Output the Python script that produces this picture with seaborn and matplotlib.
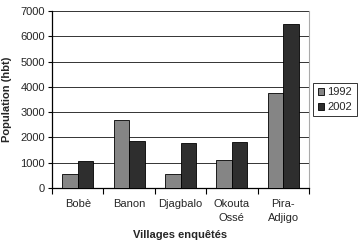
import matplotlib
matplotlib.use("Agg")
import matplotlib.pyplot as plt
import seaborn as sns
import pandas as pd
import numpy as np

villages = ["Bobè", "Banon", "Djagbalo", "Okouta\nOssé", "Pira-\nAdjigo"]
years = ["1992", "2002"]
pop_1992 = [540, 2690, 540, 1105, 3740]
pop_2002 = [1080, 1845, 1765, 1830, 6470]

df = pd.DataFrame({
    "village": villages * 2,
    "year": [years[0]] * 5 + [years[1]] * 5,
    "pop": pop_1992 + pop_2002,
})

sns.set_style("white")
plt.rcParams['font.family'] = ['Liberation Sans', 'DejaVu Sans']

fs = 8
fig = plt.figure(figsize=(3.6, 2.46), dpi=100)
ax = fig.add_axes([52/360, 1 - 188/246, (309-52)/360, (188-11)/246])

sns.barplot(data=df, x="village", y="pop", hue="year", order=villages,
            hue_order=years, palette=["#858585", "#2e2e2e"], width=0.6,
            edgecolor="black", linewidth=0.6, ax=ax, zorder=3)

ax.set_ylim(0, 7000)
ax.set_xlim(-0.5, 4.5)
ax.set_yticks(range(0, 7001, 1000))
ax.yaxis.grid(True, color="#333333", linewidth=0.7, zorder=0)
ax.set_axisbelow(True)
ax.tick_params(axis="y", labelsize=fs, length=3, width=0.8, direction="out", left=True, pad=2, color="black")
ax.set_xticks(range(5))
ax.set_xticklabels(villages, fontsize=fs, linespacing=1.45)
ax.tick_params(axis="x", length=0, pad=8)
ax.set_xticks(np.arange(-0.5, 5, 1), minor=True)
ax.tick_params(axis="x", which="minor", length=4, width=0.8, direction="out", bottom=True, color="black")

for s in ["left", "bottom"]:
    ax.spines[s].set_color("black")
    ax.spines[s].set_linewidth(0.9)
ax.spines["right"].set_color("#aaaaaa")
ax.spines["right"].set_linewidth(0.8)
ax.spines["top"].set_visible(False)

ax.set_ylabel("Population (hbt)", fontsize=fs, fontweight="bold", labelpad=6)
ax.set_xlabel("Villages enquêtés", fontsize=fs, fontweight="bold", labelpad=5)

leg = ax.legend(loc="center left", bbox_to_anchor=(1.005, 0.5), fontsize=fs,
                frameon=True, fancybox=False, edgecolor="black",
                handlelength=0.6, handleheight=0.6, handletextpad=0.3,
                borderpad=0.4, labelspacing=0.45, borderaxespad=0.25)
leg.get_frame().set_linewidth(0.7)
leg.set_title(None)

fig.savefig("out.png", dpi=100)
